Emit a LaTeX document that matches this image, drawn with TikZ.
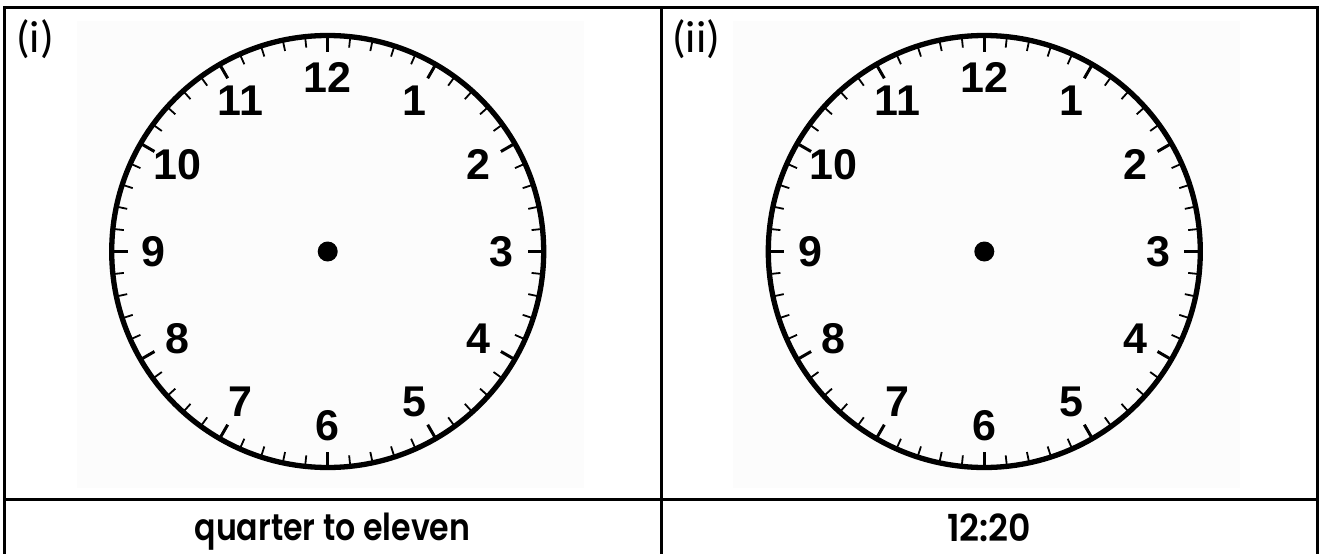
\documentclass[tikz,border=0pt]{standalone}
\usepackage{fontspec}
\setmainfont{Liberation Sans}
\newfontfamily\handfont{Poppins}[UprightFont={* SemiBold}]
\newfontfamily\labfont{Carlito}
\tikzset{
  frame/.style={line width=3pt, line cap=rect},
  hourtick/.style={line width=3pt},
  mintick/.style={line width=1.8pt},
  rim/.style={line width=5.3pt},
  num/.style={font=\fontsize{43}{43}\selectfont\bfseries, inner sep=0pt},
  caption/.style={font=\handfont\fontsize{31}{31}\selectfont, inner sep=0pt, anchor=base},
  tag/.style={font=\labfont\fontsize{45}{45}\selectfont, inner sep=0pt, anchor=base west},
  photo/.style={fill=black!1, draw=none}
}
\newcommand\myclock[3]{%
  \begin{scope}[shift={(#1,#2)}]
    \fill[photo] (-251,-231) rectangle (256,236);
    \foreach \m in {0,...,59} { \draw[mintick] (\m*6:216) -- (\m*6:205); }
    \foreach \h in {1,...,12} {
      \draw[hourtick] (\h*30-90:216) -- (\h*30-90:200);
      \node[num] (#3\h) at (\h*30-90:174) {\h};
    }
    \draw[rim] (0,0) circle (216);
    \fill (0,0) circle (10);
    \coordinate (#3c) at (0,0);
  \end{scope}}
\begin{document}
\begin{tikzpicture}[x=1pt,y=-1pt]
\useasboundingbox (0,0) rectangle (1320,554);
\fill[white] (0,0) rectangle (1320,554);
\myclock{327.7}{251.5}{a}
\myclock{984.3}{251.5}{b}
\draw[frame] (4,560) -- (4,7) -- (1317,7) -- (1317,560);
\draw[frame] (661,7) -- (661,560);
\draw[frame] (4,499) -- (1317,499);
\node[tag] (ti) at (16,52) {(i)};
\node[tag] (tii) at (672,52) {(ii)};
\node[caption] (qa) at (332.5,540) {\scalebox{1.02}[1.2]{quarter to eleven}};
\node[caption] (qb) at (989,541) {\scalebox{1.12}[1.2]{12:20}};
\end{tikzpicture}
\end{document}
